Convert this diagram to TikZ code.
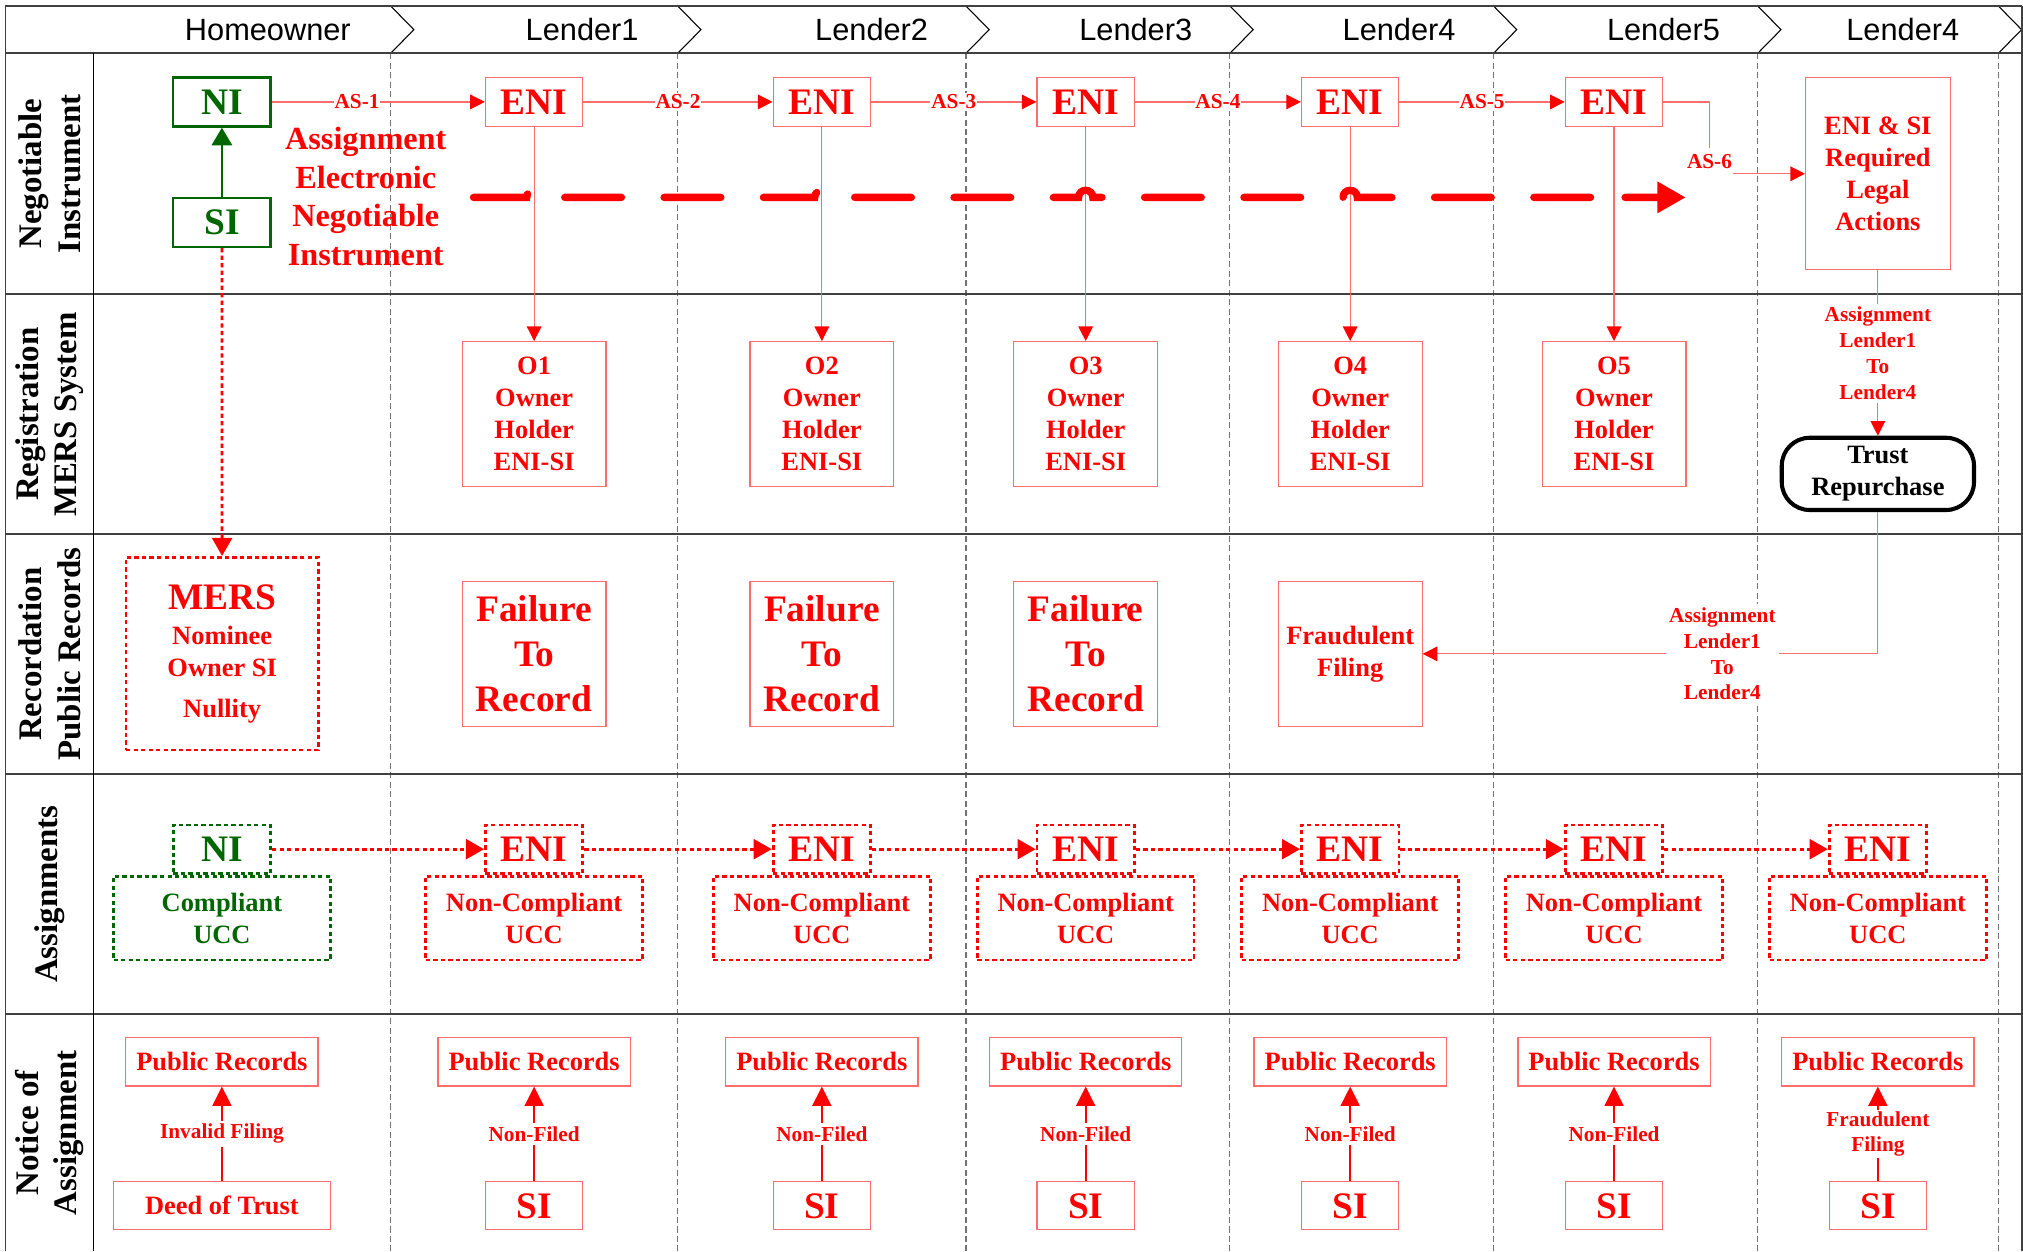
\documentclass[tikz,border=0pt]{standalone}
\usepackage{fontspec}
\setmainfont{Liberation Serif}
\newfontfamily\arialf{Liberation Sans}
\usetikzlibrary{arrows.meta}
\definecolor{lred}{RGB}{255,110,110}
\definecolor{dgreen}{RGB}{0,102,0}
\definecolor{lanegray}{RGB}{64,64,64}
\definecolor{colgray}{RGB}{115,115,115}
\newcommand\myBigF{\fontsize{17.4}{21}\selectfont\bfseries}
\newcommand\myMedF{\fontsize{12.3}{14.8}\selectfont\bfseries}
\newcommand\mySmF{\fontsize{9.9}{12}\selectfont\bfseries}
\newcommand\myLaneF{\fontsize{15.3}{18}\selectfont\bfseries}
\newcommand\myMidF{\fontsize{15}{17.9}\selectfont\bfseries}
\begin{document}
\begin{tikzpicture}[x=0.6pt,y=-0.6pt,
  rbox/.style={draw=lred, line width=0.55pt, fill=white, text=red, inner sep=0pt, align=center},
  gbox/.style={draw=dgreen, line width=1.1pt, fill=white, text=dgreen, inner sep=0pt, align=center},
  rdotbox/.style={draw=red, line width=1.3pt, dash pattern=on 2pt off 1.5pt, fill=white, text=red, inner sep=0pt, align=center},
  gdotbox/.style={draw=dgreen, line width=1.3pt, dash pattern=on 2pt off 1.5pt, fill=white, text=dgreen, inner sep=0pt, align=center},
  sbox/.style={minimum width=45.3pt, minimum height=22.8pt},
  obox/.style={minimum width=66.9pt, minimum height=67.2pt},
  prbox/.style={minimum width=89.4pt, minimum height=22.6pt},
  bucc/.style={minimum width=100.8pt, minimum height=39pt},
  aeni/.style={minimum width=45.3pt, minimum height=22.5pt, anchor=south},
  tarrow/.style={draw=lred, line width=0.55pt, -{Triangle[length=6.8pt,width=6.8pt,red]}},
  narrow/.style={draw=red, line width=1pt, -{Triangle[length=9pt,width=8.8pt]}},
  dotarrow/.style={draw=red, line width=1.3pt, dash pattern=on 2pt off 1.5pt, -{Triangle[length=8.4pt,width=9.2pt]}},
  lbl/.style={fill=white, text=red, inner sep=1.5pt, font=\mySmF, align=center},
  aslbl/.style={fill=white, text=red, inner xsep=0.4pt, inner ysep=1pt, font=\mySmF},
  lane/.style={draw=lanegray, line width=0.8pt},
  coldash/.style={draw=colgray, line width=0.5pt, dash pattern=on 2.8pt off 1.6pt},
  hdr/.style={font=\arialf\fontsize{14.3}{17}\selectfont},
  lanelbl/.style={rotate=90, font=\myLaneF, align=center},
]
\useasboundingbox (0,0) rectangle (1568,970);
% column separators
\foreach \cx in {302.8,525.3,748.7,953.3,1157.6,1362.4,1548.9}{
  \draw[coldash] (\cx,41.3) -- (\cx,970);
  \draw[black, line width=0.5pt] (\cx,4.65) -- (\cx+18,23) -- (\cx,41.3);
}
% lanes
\draw[lane] (4.2,4.65) -- (1567,4.65);
\foreach \ly in {41.3,228,414,600,786}{\draw[lane] (4.2,\ly) -- (1567,\ly);}
\draw[lane] (4.2,4.65) -- (4.2,970);
\draw[lane] (1567,4.65) -- (1567,970);
\draw[black, line width=0.6pt] (72.7,41.3) -- (72.7,970);
% headers
\node[hdr] (h0) at (207.6,23) {Homeowner};
\node[hdr] (h1) at (451.2,23) {Lender1};
\node[hdr] (h2) at (675.6,23) {Lender2};
\node[hdr] (h3) at (880.3,23) {Lender3};
\node[hdr] (h4) at (1084.4,23) {Lender4};
\node[hdr] (h5) at (1289.3,23) {Lender5};
\node[hdr] (h6) at (1474.8,23) {Lender4};
% lane labels
\node[lanelbl] (l1) at (38.4,134.6) {Negotiable\\Instrument};
\node[lanelbl] (l2) at (38.4,321) {Registration\\MERS System};
\node[lanelbl] (l3) at (38.4,507) {Recordation\\Public Records};
\node[lanelbl] (l4) at (38.4,693) {Assignments};
\node[lanelbl] (l5) at (38.4,878) {Notice of\\Assignment};

% ---- Lane 1
\node[gbox, sbox, font=\myBigF] (ni1) at (172,79) {NI};
\node[gbox, sbox, font=\myBigF] (si1) at (172,172.3) {SI};
\node[rbox, sbox, font=\myBigF] (eni1) at (414,79) {ENI};
\node[rbox, sbox, font=\myBigF] (eni2) at (637,79) {ENI};
\node[rbox, sbox, font=\myBigF] (eni3) at (841.5,79) {ENI};
\node[rbox, sbox, font=\myBigF] (eni4) at (1046.5,79) {ENI};
\node[rbox, sbox, font=\myBigF] (eni5) at (1251,79) {ENI};
\node[rbox, minimum width=67.2pt, minimum height=89.4pt, font=\myMedF] (enisi) at (1455.5,134.7) {ENI \& SI\\Required\\Legal\\Actions};
\node[text=red, font=\myMidF, align=center] (aenitxt) at (283.5,152.2) {Assignment\\Electronic\\Negotiable\\Instrument};

% ---- Lane 2
\node[rbox, obox, font=\myMedF] (o1) at (414,320.8) {O1\\Owner\\Holder\\ENI-SI};
\node[rbox, obox, font=\myMedF] (o2) at (637,320.8) {O2\\Owner\\Holder\\ENI-SI};
\node[rbox, obox, font=\myMedF] (o3) at (841.5,320.8) {O3\\Owner\\Holder\\ENI-SI};
\node[rbox, obox, font=\myMedF] (o4) at (1046.5,320.8) {O4\\Owner\\Holder\\ENI-SI};
\node[rbox, obox, font=\myMedF] (o5) at (1251,320.8) {O5\\Owner\\Holder\\ENI-SI};
\node[draw=black, line width=1.9pt, rounded corners=13pt, minimum width=89.4pt, minimum height=33.6pt, fill=white, inner sep=0pt, align=center, font=\myMedF] (trust) at (1455.5,367.3) {Trust\\Repurchase};

% ---- Lane 3
\node[rdotbox, minimum width=89.4pt, minimum height=89.6pt, font=\myMedF] (mers) at (172.2,506.7) {{\myBigF MERS}\\[1.5pt]Nominee\\Owner SI\\[4.4pt]Nullity};
\node[rbox, obox, font=\myBigF] (fail1) at (414,506.8) {Failure\\To\\Record};
\node[rbox, obox, font=\myBigF] (fail2) at (637,506.8) {Failure\\To\\Record};
\node[rbox, obox, font=\myBigF] (fail3) at (841.5,506.8) {Failure\\To\\Record};
\node[rbox, obox, font=\myMedF] (fraud) at (1046.5,506.8) {Fraudulent\\Filing};

% ---- Lane 4
\node[gdotbox, bucc, font=\myMedF] (ucc0) at (172,711.6) {Compliant\\UCC};
\node[gdotbox, aeni, font=\myBigF] (ani0) at (ucc0.north) {NI};
\foreach \i/\cx in {1/414,2/637,3/841.5,4/1046.5,5/1251,6/1455.5}{
  \node[rdotbox, bucc, font=\myMedF] (ucc\i) at (\cx,711.6) {Non-Compliant\\UCC};
  \node[rdotbox, aeni, font=\myBigF] (ani\i) at (ucc\i.north) {ENI};
}

% ---- Lane 5
\node[rbox, prbox, font=\myMedF] (pr0) at (172,822.9) {Public Records};
\node[rbox, minimum width=100.8pt, minimum height=22.4pt, font=\myMedF] (deed) at (172,934.6) {Deed of Trust};
\foreach \i/\cx in {1/414,2/637,3/841.5,4/1046.5,5/1251,6/1455.5}{
  \node[rbox, prbox, font=\myMedF] (pr\i) at (\cx,822.9) {Public Records};
  \node[rbox, sbox, minimum height=22.4pt, font=\myBigF] (nsi\i) at (\cx,934.6) {SI};
}

% ---- connectors lane 1
\draw[dgreen, line width=1.3pt, -{Triangle[length=8.2pt,width=9.3pt]}] (si1) -- (ni1);
\draw[tarrow] (ni1) -- node[aslbl, pos=0.4] {AS-1} (eni1);
\draw[tarrow] (eni1) -- node[aslbl] {AS-2} (eni2);
\draw[tarrow] (eni2) -- node[aslbl] {AS-3} (eni3);
\draw[tarrow] (eni3) -- node[aslbl] {AS-4} (eni4);
\draw[tarrow] (eni4) -- node[aslbl] {AS-5} (eni5);
\coordinate (c6) at (1325,134.7);
\draw[tarrow] (eni5.east) -| (c6) -- (enisi.west);
\node[fill=white, text=red, inner xsep=0.4pt, inner ysep=3pt, font=\mySmF] (as6) at (1325,125.4) {AS-6};
% ENI -> owner boxes
\foreach \i in {1,...,5}{\draw[tarrow] (eni\i) -- (o\i);}
% big dashed arrow
\coordinate (dstart) at (367,153);
\coordinate (dend) at (1306.6,153);
\draw[red, line width=3.4pt, line cap=round, dash pattern=on 26.4pt off 19.8pt, -{Triangle[length=13.2pt,width=13.8pt]}]
  (dstart) -- (408.3,153) .. controls (408.3,145.7) and (419.3,145.7) .. (419.3,153)
  -- (631.5,153) .. controls (631.5,145.7) and (642.5,145.7) .. (642.5,153)
  -- (836,153) .. controls (836,145.7) and (847,145.7) .. (847,153)
  -- (1041,153) .. controls (1041,145.7) and (1052,145.7) .. (1052,153)
  -- (1245.5,153) .. controls (1245.5,145.7) and (1256.5,145.7) .. (1256.5,153)
  -- (dend);
% SI -> MERS
\draw[dotarrow] (si1) -- (mers);
% ENI&SI -> Trust -> Fraudulent
\draw[tarrow] (enisi) -- node[lbl] {Assignment\\Lender1\\To\\Lender4} (trust);
\draw[tarrow] (trust.south) |- (fraud.east);
\node[lbl] (asl2) at (1335,506.8) {Assignment\\Lender1\\To\\Lender4};
% lane 4 dotted arrows
\draw[dotarrow] (ani0) -- (ani1);
\foreach \i/\j in {1/2,2/3,3/4,4/5,5/6}{\draw[dotarrow] (ani\i) -- (ani\j);}
% lane 5 arrows
\draw[narrow] (deed) -- node[lbl] {Invalid Filing} (pr0);
\foreach \i in {1,...,5}{\draw[narrow] (nsi\i) -- node[lbl] {Non-Filed} (pr\i);}
\draw[narrow] (nsi6) -- node[lbl, inner sep=0.8pt] {Fraudulent\\Filing} (pr6);
\end{tikzpicture}
\end{document}
